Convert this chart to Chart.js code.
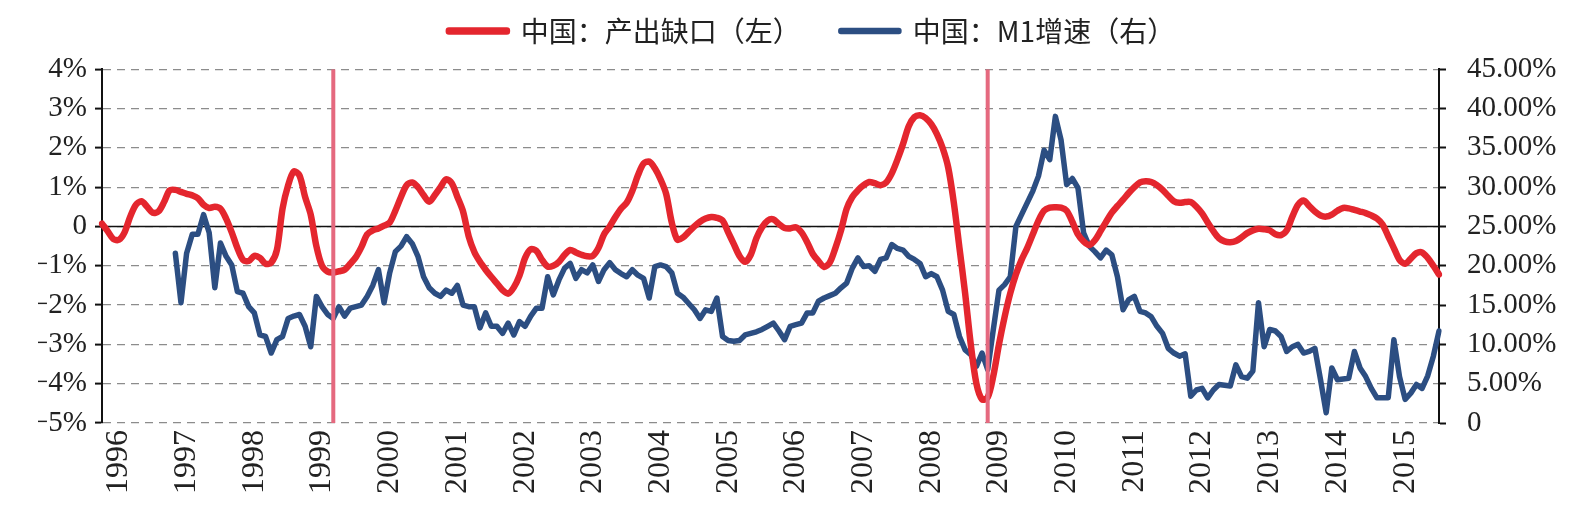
<!DOCTYPE html>
<html lang="zh">
<head>
<meta charset="utf-8">
<title>中国：产出缺口与M1增速</title>
<script src="https://cdn.jsdelivr.net/npm/chart.js@4.4.1/dist/chart.umd.min.js"></script>
<style>
    html, body { margin: 0; padding: 0; background: #fff; }
    #chart { display: block; }
</style>
</head>
<body>
<canvas id="chart" width="1586" height="520"></canvas>
<script>
// monthly series, first point is 1995-10
const startYear = 1995;
const startMonth = 10;

// 中国：产出缺口（左），%
const outputGap = [
    0.07, -0.12, -0.32, -0.34, -0.15, 0.25, 0.55, 0.64, 0.5, 0.35, 0.38, 0.62,
    0.92, 0.93, 0.88, 0.83, 0.79, 0.72, 0.55, 0.47, 0.5, 0.45, 0.2, -0.15,
    -0.55, -0.85, -0.88, -0.75, -0.8, -0.95, -0.92, -0.6, 0.45, 1.05, 1.4, 1.3,
    0.75, 0.3, -0.5, -1.0, -1.15, -1.17, -1.14, -1.1, -0.95, -0.78, -0.52, -0.2,
    -0.1, -0.05, 0.02, 0.1, 0.4, 0.75, 1.05, 1.12, 1.0, 0.8, 0.63, 0.8,
    1.0, 1.2, 1.1, 0.75, 0.38, -0.25, -0.65, -0.9, -1.1, -1.28, -1.45, -1.62,
    -1.71, -1.55, -1.25, -0.8, -0.58, -0.62, -0.85, -1.02, -1.0, -0.9, -0.72, -0.6,
    -0.66, -0.72, -0.76, -0.75, -0.55, -0.2, 0.0, 0.24, 0.45, 0.6, 0.9, 1.3,
    1.6, 1.65, 1.48, 1.2, 0.83, 0.1, -0.34, -0.28, -0.14, 0.0, 0.12, 0.2,
    0.24, 0.22, 0.15, -0.15, -0.45, -0.75, -0.9, -0.72, -0.3, -0.02, 0.15, 0.18,
    0.06, -0.04, -0.05, -0.02, -0.15, -0.4, -0.7, -0.88, -1.03, -0.92, -0.55, -0.1,
    0.45, 0.75, 0.92, 1.05, 1.13, 1.1, 1.05, 1.12, 1.35, 1.7, 2.1, 2.55,
    2.78, 2.83, 2.76, 2.6, 2.35, 2.0, 1.5, 0.6, -0.55, -1.7, -3.0, -4.0,
    -4.4, -4.35, -3.8, -3.0, -2.3, -1.7, -1.22, -0.85, -0.55, -0.2, 0.15, 0.4,
    0.48, 0.49, 0.48, 0.4, 0.12, -0.2, -0.38, -0.47, -0.35, -0.12, 0.12, 0.35,
    0.52, 0.68, 0.85, 1.0, 1.12, 1.15, 1.13, 1.05, 0.93, 0.78, 0.64, 0.6,
    0.62, 0.62, 0.5, 0.33, 0.1, -0.12, -0.3, -0.38, -0.4, -0.37, -0.28, -0.17,
    -0.1, -0.06, -0.07, -0.1, -0.2, -0.22, -0.1, 0.25, 0.55, 0.66, 0.52, 0.38,
    0.28, 0.25, 0.3, 0.4, 0.47, 0.46, 0.42, 0.38, 0.34, 0.28, 0.2, 0.05,
    -0.25, -0.55, -0.85, -0.95, -0.82, -0.68, -0.66, -0.8, -1.0, -1.22
];

// 中国：M1增速（右），%
const m1Growth = [
    null, null, null, null, null, null, null, null, null, null, null, null,
    null, 21.6, 15.3, 21.6, 24.0, 24.0, 26.5, 24.2, 17.2, 22.9, 21.2, 20.1,
    16.7, 16.5, 14.8, 14.0, 11.2, 11.0, 8.9, 10.6, 11.0, 13.3, 13.6, 13.8,
    12.3, 9.7, 16.1, 14.8, 13.8, 13.3, 14.8, 13.6, 14.6, 14.8, 15.0, 16.1,
    17.5, 19.5, 15.3, 19.1, 21.8, 22.5, 23.7, 22.8, 21.2, 18.6, 17.2, 16.5,
    16.1, 16.9, 16.5, 17.5, 15.0, 14.8, 14.8, 12.1, 14.0, 12.3, 12.3, 11.4,
    12.7, 11.2, 12.9, 12.3, 13.6, 14.6, 14.6, 18.6, 16.3, 18.2, 19.7, 20.3,
    18.4, 19.5, 19.1, 20.1, 18.0, 19.5, 20.4, 19.5, 19.0, 18.6, 19.5, 18.8,
    18.4, 15.9, 19.9, 20.1, 19.9, 19.1, 16.5, 16.0, 15.2, 14.4, 13.3, 14.4,
    14.2, 15.9, 11.0, 10.5, 10.4, 10.5, 11.2, 11.4, 11.6, 11.9, 12.3, 12.7,
    11.7, 10.6, 12.3, 12.5, 12.7, 14.0, 14.0, 15.5, 15.9, 16.2, 16.5, 17.2,
    17.8, 19.7, 21.0, 19.9, 20.0, 19.3, 20.8, 21.0, 22.7, 22.2, 22.0, 21.2,
    20.8, 20.3, 18.6, 19.0, 18.6, 16.9, 14.2, 13.8, 11.0, 9.3, 8.7, 7.2,
    8.9, 6.8, 11.9, 16.9, 17.6, 18.6, 25.0, 26.5, 28.0, 29.5, 31.4, 34.7,
    33.5, 39.0, 36.0, 30.3, 31.1, 29.9, 24.2, 22.5, 21.8, 21.0, 22.0, 21.4,
    18.6, 14.4, 15.7, 16.1, 14.2, 14.0, 13.5, 12.3, 11.4, 9.5, 8.9, 8.5,
    8.8, 3.4, 4.2, 4.4, 3.2, 4.2, 4.9, 4.8, 4.7, 7.4, 5.9, 5.7,
    6.6, 15.3, 9.7, 11.9, 11.7, 11.0, 9.1, 9.7, 10.0, 8.9, 9.1, 9.5,
    5.5, 1.3, 7.0, 5.5, 5.6, 5.7, 9.1, 7.0, 5.9, 4.4, 3.2, 3.2,
    3.2, 10.6, 5.9, 3.0, 3.8, 4.9, 4.4, 6.0, 8.5, 11.7
];

// vertical marker lines
const eventMonths = ['1999-03', '2008-11'];

const seriesNames = ['中国：产出缺口（左）', '中国：M1增速（右）'];

const red = '#e4262e';
const blue = '#2c4e82';
const pink = '#e5697f';

// category labels yyyy-mm
const months = outputGap.map(function (_, i) {
    const m = startMonth - 1 + i;
    const y = startYear + Math.floor(m / 12);
    const mm = (m % 12) + 1;
    return y + '-' + (mm < 10 ? '0' + mm : '' + mm);
});

const tickFont = { family: "'Liberation Serif', 'Times New Roman', serif", size: 29 };

const datasets = [
    {
        label: seriesNames[0],
        data: outputGap,
        yAxisID: 'y',
        borderColor: red,
        backgroundColor: red,
        borderWidth: 6.5,
        borderJoinStyle: 'round',
        borderCapStyle: 'round',
        pointRadius: 0,
        tension: 0.3,
        order: 2
    },
    {
        label: seriesNames[1],
        data: m1Growth,
        yAxisID: 'y1',
        borderColor: blue,
        backgroundColor: blue,
        borderWidth: 5.5,
        borderJoinStyle: 'round',
        borderCapStyle: 'round',
        pointRadius: 0,
        tension: 0,
        order: 3
    }
];

eventMonths.forEach(function (m) {
    datasets.push({
        label: 'event ' + m,
        data: [{ x: m, y: -5 }, { x: m, y: 4 }],
        yAxisID: 'y',
        borderColor: pink,
        borderWidth: 4,
        pointRadius: 0,
        order: 1
    });
});

// solid zero line on the left axis
datasets.push({
    label: 'zero',
    data: [{ x: months[0], y: 0 }, { x: months[months.length - 1], y: 0 }],
    yAxisID: 'y',
    borderColor: '#111',
    borderWidth: 1.5,
    pointRadius: 0,
    order: 4
});

const ctx = document.getElementById('chart').getContext('2d');

const myChart = new Chart(ctx, {
    type: 'line',
    data: {
        labels: months,
        datasets: datasets
    },
    options: {
        responsive: false,
        animation: false,
        devicePixelRatio: 1,
        layout: {
            padding: { top: -23, left: 38, right: 0, bottom: 0 }
        },
        plugins: {
            legend: {
                position: 'top',
                align: 'center',
                labels: {
                    boxWidth: 58,
                    boxHeight: 1,
                    padding: 40,
                    color: '#222',
                    font: { family: "'Noto Sans CJK SC', sans-serif", size: 28 },
                    filter: function (item) {
                        return item.datasetIndex < 2;
                    }
                }
            },
            // empty spacer between legend and plot
            title: {
                display: true,
                text: '',
                position: 'top',
                weight: 500,
                font: { size: 1 },
                padding: { top: 0, bottom: 13 }
            },
            tooltip: { enabled: false }
        },
        scales: {
            x: {
                type: 'category',
                grid: { display: false, drawTicks: false },
                border: { display: false },
                ticks: {
                    autoSkip: false,
                    minRotation: 90,
                    maxRotation: 90,
                    padding: 7,
                    color: '#222',
                    font: { family: tickFont.family, size: 32 },
                    callback: function (value) {
                        const lab = this.getLabelForValue(value);
                        return lab.slice(5) === '01' ? lab.slice(0, 4) : '';
                    }
                },
                afterFit: function (scale) {
                    scale.height = 97;
                }
            },
            y: {
                position: 'left',
                min: -5,
                max: 4,
                ticks: {
                    stepSize: 1,
                    padding: 8,
                    color: '#222',
                    font: tickFont,
                    callback: function (v) {
                        if (v === 0) return '0';
                        return (v < 0 ? '\u2212' + (-v) : v) + '%';
                    }
                },
                grid: {
                    color: '#8c8c8c',
                    lineWidth: 1.2,
                    tickLength: 7,
                    tickColor: '#111',
                    tickWidth: 2,
                    tickBorderDash: []
                },
                border: { display: true, color: '#111', width: 2, dash: [8, 6] },
                afterFit: function (scale) {
                    scale.width = 64;
                }
            },
            y1: {
                position: 'right',
                min: 0,
                max: 45,
                ticks: {
                    stepSize: 5,
                    padding: 21,
                    color: '#222',
                    font: tickFont,
                    callback: function (v) {
                        return v === 0 ? '0' : v.toFixed(2) + '%';
                    }
                },
                grid: {
                    drawOnChartArea: false,
                    tickLength: 7,
                    tickColor: '#111',
                    tickWidth: 2
                },
                border: { display: true, color: '#111', width: 2 },
                afterFit: function (scale) {
                    scale.width = 147;
                }
            }
        }
    }
});
</script>
</body>
</html>
